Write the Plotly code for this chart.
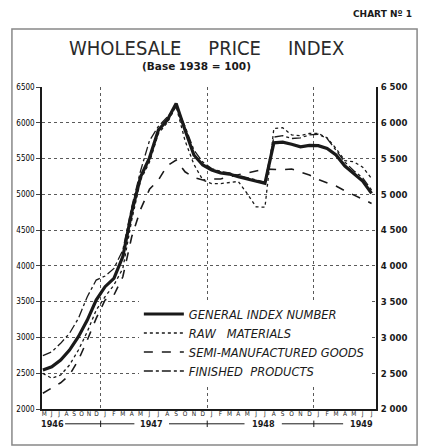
import plotly.graph_objects as go

# ---- data (month index: 1 = Jun 1946 ... 38 = Jul 1949) ----
month_idx = list(range(1, 39))

general = [2545, 2590, 2685, 2824, 3010, 3243, 3523, 3709, 3826, 4130, 4750, 5245,
           5510, 5898, 6037, 6270, 5898, 5550, 5410, 5340, 5300, 5283, 5245, 5213,
           5175, 5153, 5720, 5730, 5700, 5665, 5685, 5680, 5640, 5550, 5395, 5283,
           5185, 5013]
raw_materials = [2498, 2429, 2475, 2615, 2824, 3080, 3383, 3570, 3732, 3965, 4640, 5200,
                 5450, 5850, 6000, 6230, 5750, 5420, 5200, 5150, 5150, 5165, 5180, 5010,
                 4826, 4820, 5920, 5930, 5830, 5820, 5850, 5850, 5790, 5640, 5470, 5455,
                 5380, 5222]
semi_manufactured = [2220, 2290, 2367, 2475, 2685, 2964, 3267, 3523, 3593, 3848, 4407, 4790,
                     5070, 5200, 5400, 5480, 5315, 5236, 5200, 5213, 5215, 5245, 5270, 5290,
                     5325, 5353, 5345, 5345, 5353, 5311, 5270, 5208, 5161, 5115, 5050, 4990,
                     4934, 4873]
finished = [2745, 2800, 2918, 3058, 3267, 3570, 3802, 3858, 3965, 4221, 4826, 5330,
            5750, 5950, 6080, 6230, 5950, 5620, 5450, 5360, 5320, 5300, 5265, 5235,
            5200, 5170, 5800, 5820, 5780, 5790, 5830, 5840, 5780, 5620, 5450, 5330,
            5230, 5060]

month_letters = list("MJJASOND") + list("JFMAMJJASOND") * 2 + list("JFMAMJJ")
month_letter_pos = [1.15 + k * 0.84 for k in range(8)] + list(range(8, 39))
year_labels = ["1946", "1947", "1948", "1949"]
year_pos = [2.1, 13.2, 25.8, 36.9]
year_connectors = [(3.5, 11.3), (15.2, 23.7), (27.9, 34.8)]
year_breaks = [7.5, 19.5, 31.5]

y_ticks = [2000, 2500, 3000, 3500, 4000, 4500, 5000, 5500, 6000, 6500]
y_left_text = [str(v) for v in y_ticks]
y_right_text = [f"{v // 1000} {v % 1000:03d}" for v in y_ticks]

XR = [0.9, 38.5]
YR = [2000, 6500]
INK = "#1a1a1a"
NARROW = "Liberation Sans Narrow, DejaVu Sans Condensed, Arial Narrow, sans-serif"
COND = "DejaVu Sans Condensed, DejaVu Sans, sans-serif"
SANS = "DejaVu Sans, sans-serif"

fig = go.Figure()
fig.add_trace(go.Scatter(x=month_idx, y=general, mode="lines", name="GENERAL INDEX NUMBER",
                         line=dict(color=INK, width=3.2)))
fig.add_trace(go.Scatter(x=month_idx, y=raw_materials, mode="lines", name="RAW   MATERIALS",
                         line=dict(color=INK, width=1.3, dash="dot")))
fig.add_trace(go.Scatter(x=month_idx, y=semi_manufactured, mode="lines",
                         name="SEMI-MANUFACTURED GOODS",
                         line=dict(color=INK, width=1.6, dash="dash")))
fig.add_trace(go.Scatter(x=month_idx, y=finished, mode="lines", name="FINISHED  PRODUCTS",
                         line=dict(color=INK, width=1.3, dash="dashdot")))
# carrier trace for the secondary (right / grid) axes
fig.add_trace(go.Scatter(x=month_idx, y=general, xaxis="x2", yaxis="y2", mode="lines",
                         line=dict(color="rgba(0,0,0,0)"), showlegend=False, hoverinfo="skip"))

fig.update_layout(
    width=423, height=448, autosize=False,
    margin=dict(l=42, r=47, t=87, b=39),
    paper_bgcolor="white", plot_bgcolor="white",
    showlegend=True,
    legend=dict(x=0.29, y=0.34, xanchor="left", yanchor="top", bgcolor="white",
                borderwidth=0, tracegroupgap=0, itemwidth=40,
                font=dict(family=SANS, size=11.5, color=INK, style="italic")),
    xaxis=dict(range=XR, showgrid=False, zeroline=False, showline=True, linecolor=INK,
               linewidth=1.5, tickmode="array", tickvals=month_letter_pos, ticktext=month_letters,
               ticks="", ticklen=0, ticklabelstandoff=-3,
               tickfont=dict(family=NARROW, size=6.5, color=INK), tickangle=0),
    yaxis=dict(range=YR, tickmode="array", tickvals=y_ticks, ticktext=y_left_text,
               showgrid=True, gridcolor="#5a5a5a", griddash="dot", gridwidth=1,
               zeroline=False, showline=True, linecolor=INK, linewidth=1.5,
               ticks="outside", ticklen=4, tickcolor="#444",
               tickfont=dict(family=NARROW, size=8, color="#000000")),
    xaxis2=dict(range=XR, overlaying="x", tickmode="array", tickvals=year_breaks,
                showticklabels=False, showgrid=True, gridcolor="#5a5a5a", griddash="dot",
                gridwidth=1, zeroline=False, ticks=""),
    yaxis2=dict(range=YR, overlaying="y", side="right", tickmode="array", tickvals=y_ticks,
                ticktext=y_right_text, showgrid=False, zeroline=False, showline=True,
                linecolor=INK, linewidth=1.5, ticks="", ticklabelstandoff=1,
                tickfont=dict(family=COND, size=9.5, color=INK, weight="bold")),
)

annotations = [
    dict(text="WHOLESALE\u2003\u2002PRICE\u2003\u2002INDEX", x=0.493, y=1.121,
         xref="paper", yref="paper", xanchor="center", yanchor="middle",
         showarrow=False, font=dict(family=NARROW, size=20, color="#2a2a2a")),
    dict(text="(Base 1938 = 100)", x=0.464, y=1.065, xref="paper", yref="paper",
         xanchor="center", yanchor="middle", showarrow=False,
         font=dict(family=SANS, size=10.5, color=INK, weight="bold")),
    dict(text="CHART Nº 1", x=1.02, y=1.227, xref="paper", yref="paper",
         xanchor="center", yanchor="middle", showarrow=False,
         font=dict(family=SANS, size=9, color=INK, weight="bold")),
]
YEAR_Y = -0.046
for lab, pos in zip(year_labels, year_pos):
    annotations.append(dict(text=lab, x=pos, y=YEAR_Y, xref="x", yref="paper",
                            xanchor="center", yanchor="middle", showarrow=False,
                            font=dict(family=COND, size=9, color=INK, weight="bold")))
fig.update_layout(annotations=annotations)

shapes = [dict(type="rect", xref="paper", yref="paper", x0=-0.09, x1=1.123, y0=-0.112,
               y1=1.18, line=dict(color="#888", width=1.5))]
for a, b in year_connectors:
    shapes.append(dict(type="line", xref="x", yref="paper", x0=a, x1=b, y0=YEAR_Y,
                       y1=YEAR_Y, line=dict(color=INK, width=1)))
for xb in year_breaks:
    shapes.append(dict(type="line", xref="x", yref="paper", x0=xb, x1=xb, y0=YEAR_Y + 0.01,
                       y1=YEAR_Y - 0.01, line=dict(color=INK, width=1)))
fig.update_layout(shapes=shapes)

fig.write_html("out.html", config={"displayModeBar": False},
               post_script="document.body.style.margin='0';document.body.style.padding='0';")
